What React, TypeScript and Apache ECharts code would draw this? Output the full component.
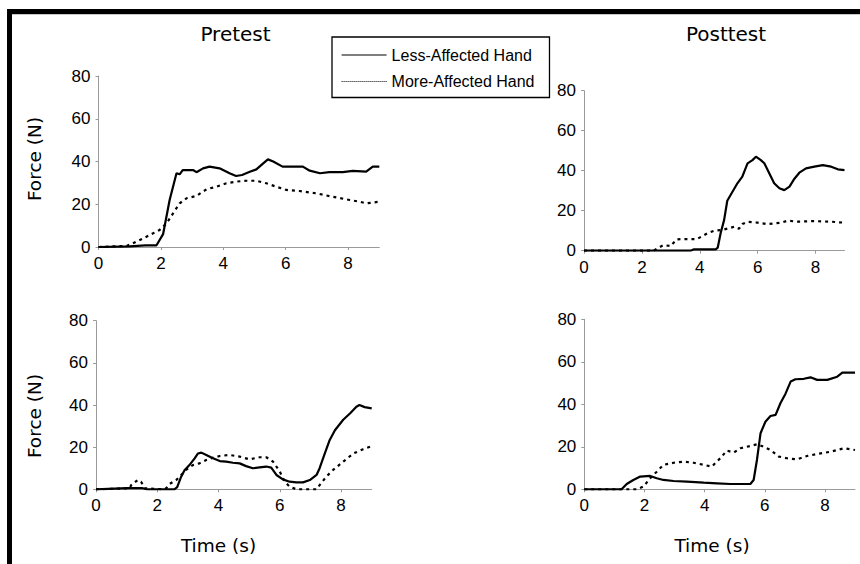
import React, { useEffect, useRef } from "react";
import * as echarts from "echarts";

// ---- Data (time in s, force in N) ----
const xTicks = [0, 2, 4, 6, 8];
const legendNames = ["Less-Affected Hand", "More-Affected Hand"];
const panelTitles = ["Pretest", "Posttest"];

const preTopLess = [
  [0, 0], [1.0, 0.3], [1.5, 0.8], [1.86, 0.8], [2.07, 6], [2.28, 22], [2.5, 34.5], [2.6, 34],
  [2.7, 36], [3.03, 36], [3.14, 35], [3.35, 36.8], [3.56, 37.6], [3.88, 36.8], [4.2, 34.5],
  [4.41, 33.2], [4.6, 33.7], [4.85, 35.2], [5.06, 36.3], [5.27, 39], [5.43, 41], [5.6, 40],
  [5.9, 37.6], [6.23, 37.6], [6.55, 37.6], [6.77, 35.7], [7.1, 34.5], [7.4, 35], [7.83, 35],
  [8.15, 35.6], [8.58, 35.3], [8.79, 37.6], [9.0, 37.6],
];
const preTopMore = [
  [0, 0], [0.9, 0.5], [1.1, 1.7], [1.43, 4], [1.75, 6.4], [1.96, 8], [2.18, 11], [2.39, 15.7],
  [2.6, 20.4], [2.82, 22.8], [3.14, 23.9], [3.46, 27], [3.78, 28.2], [4.1, 29.8], [4.42, 30.6],
  [4.74, 31], [5.06, 31], [5.38, 29.8], [5.7, 28.2], [6.02, 26.7], [6.44, 26.2], [6.98, 25.1],
  [7.51, 23.5], [8.05, 22], [8.37, 21.2], [8.58, 20.4], [9.0, 21.2],
];
const postTopLess = [
  [0, 0], [3.68, 0], [3.8, 0.7], [4.55, 0.7], [4.62, 1.5], [4.72, 8.7], [4.84, 15.3], [4.95, 25],
  [5.13, 29.5], [5.3, 33.7], [5.47, 37], [5.65, 43.7], [5.82, 45.3], [5.94, 47], [6.11, 45.3],
  [6.23, 43.7], [6.4, 38.7], [6.57, 33.7], [6.75, 31.2], [6.92, 30.3], [7.1, 32], [7.27, 36],
  [7.44, 39], [7.67, 41.2], [7.96, 42], [8.25, 42.8], [8.54, 42], [8.77, 40.7], [9.0, 40.3],
];
const postTopMore = [
  [0, 0], [2.4, 0], [2.64, 2], [2.75, 2.8], [2.99, 2.3], [3.2, 5.7], [3.45, 5.8], [3.9, 5.8],
  [4.26, 8.7], [4.5, 10], [4.72, 10.3], [4.95, 11], [5.19, 12], [5.36, 11], [5.47, 13.3],
  [5.65, 14.5], [6.0, 14], [6.34, 13.3], [6.8, 14], [7.04, 15], [7.38, 14.5], [7.96, 14.8],
  [8.54, 14.5], [9.0, 14],
];
const preBottomLess = [
  [0, 0], [1.0, 0.6], [1.5, 0.6], [1.65, 0], [2.56, 0], [2.65, 1], [2.78, 6], [2.89, 9],
  [3.05, 11.5], [3.22, 14.7], [3.33, 17], [3.44, 17.4], [3.6, 16.3], [3.82, 14.7], [4.04, 13.4],
  [4.25, 13.1], [4.47, 12.6], [4.69, 12.3], [4.9, 11], [5.12, 10], [5.34, 10.4], [5.56, 10.8],
  [5.72, 10.3], [5.89, 6.8], [6.1, 4.7], [6.32, 3.6], [6.54, 3.3], [6.76, 3.3], [6.98, 4.4],
  [7.2, 6.8], [7.3, 10], [7.47, 17], [7.63, 23.4], [7.8, 28], [8.07, 33], [8.29, 36],
  [8.5, 39.2], [8.6, 40], [8.77, 39], [9.0, 38.4],
];
const preBottomMore = [
  [0, 0], [1.1, 0.5], [1.15, 2], [1.36, 4.4], [1.47, 3.6], [1.6, 0.5], [2.2, 0], [2.29, 0.5],
  [2.4, 2.5], [2.62, 4.4], [2.78, 6.8], [2.94, 9.2], [3.16, 11.5], [3.38, 12.3], [3.6, 13.9],
  [3.82, 15], [4.04, 15.8], [4.36, 16.3], [4.69, 15.5], [5.01, 14.2], [5.34, 15.2], [5.56, 15.2],
  [5.78, 13.1], [6.0, 8.4], [6.16, 3.6], [6.32, 1.3], [6.54, 0], [7.2, 0], [7.3, 2], [7.52, 6],
  [7.74, 9.2], [8.07, 13.1], [8.4, 17], [8.72, 19], [9.0, 20.5],
];
const postBottomLess = [
  [0, 0], [1.24, 0], [1.41, 2.5], [1.63, 4.4], [1.86, 6], [2.19, 6.3], [2.41, 5.2], [2.63, 4.4],
  [2.97, 3.9], [3.41, 3.6], [3.97, 3.1], [4.41, 2.8], [4.86, 2.5], [5.52, 2.5], [5.63, 4.4],
  [5.74, 13.8], [5.86, 26.4], [6.02, 31.8], [6.19, 34.5], [6.36, 35], [6.52, 40.5], [6.69, 45],
  [6.86, 50.7], [7.02, 51.8], [7.3, 52], [7.52, 52.7], [7.74, 51.5], [8.08, 51.5], [8.41, 53],
  [8.58, 54.9], [9.0, 54.9],
];
const postBottomMore = [
  [0, 0], [1.52, 0], [1.74, 0], [1.97, 1.3], [2.19, 5.2], [2.41, 8.3], [2.63, 11.5], [2.97, 12.5],
  [3.3, 13], [3.63, 12.5], [3.97, 11.5], [4.24, 10.7], [4.52, 14.6], [4.74, 18.2], [4.97, 17.3],
  [5.19, 19.3], [5.52, 20.4], [5.74, 21.2], [5.97, 20], [6.19, 18.5], [6.47, 15.4], [6.74, 14.6],
  [7.08, 14.1], [7.41, 15.7], [7.74, 16.6], [8.19, 17.7], [8.63, 19.3], [9.0, 18.5],
];

const panels = [
  { less: preTopLess, more: preTopMore, grid: { left: 98.5, top: 76, width: 280.8, height: 171 } },
  { less: postTopLess, more: postTopMore, grid: { left: 584, top: 90.7, width: 260.5, height: 160 } },
  { less: preBottomLess, more: preBottomMore, grid: { left: 96, top: 320.7, width: 275.7, height: 168.6 } },
  { less: postBottomLess, more: postBottomMore, grid: { left: 584.3, top: 319.3, width: 270.7, height: 170 } },
];

const SANS = "'Liberation Sans', Arial, sans-serif";
const DEJA = "'DejaVu Sans', Verdana, sans-serif";
const AXIS_GRAY = "#9a9a9a";

export default function App() {
  const ref = useRef<HTMLDivElement>(null);

  useEffect(() => {
    if (!ref.current) return;
    const chart = echarts.init(ref.current, undefined, { renderer: "svg" });

    const grids = panels.map((p) => ({ ...p.grid, containLabel: false }));
    const xAxes = panels.map((_, i) => ({
      type: "value",
      gridIndex: i,
      min: 0,
      max: 9,
      interval: 2,
      axisLine: { show: true, lineStyle: { color: AXIS_GRAY, width: 1 } },
      axisTick: { show: true, length: 3, lineStyle: { color: AXIS_GRAY }, customValues: xTicks },
      axisLabel: { color: "#000", fontSize: 17, fontFamily: SANS, margin: 8, customValues: xTicks },
      splitLine: { show: false },
    }));
    const yAxes = panels.map((_, i) => ({
      type: "value",
      gridIndex: i,
      min: 0,
      max: 80,
      interval: 20,
      axisLine: { show: true, lineStyle: { color: AXIS_GRAY, width: 1 } },
      axisTick: { show: true, length: 3, lineStyle: { color: AXIS_GRAY } },
      axisLabel: { color: "#000", fontSize: 17, fontFamily: SANS, margin: 8 },
      splitLine: { show: false },
    }));

    const series: any[] = [];
    panels.forEach((p, i) => {
      series.push({
        type: "line",
        name: legendNames[0],
        xAxisIndex: i,
        yAxisIndex: i,
        data: p.less,
        symbol: "none",
        showSymbol: false,
        lineStyle: { color: "#000", width: 2.2, type: "solid" },
        itemStyle: { color: "#000" },
      });
      series.push({
        type: "line",
        name: legendNames[1],
        xAxisIndex: i,
        yAxisIndex: i,
        data: p.more,
        symbol: "none",
        showSymbol: false,
        lineStyle: { color: "#000", width: 2.2, type: [3, 4] },
        itemStyle: { color: "#000" },
      });
    });

    const titleFont = `20px ${DEJA}`;
    const nameFont = `18.5px ${DEJA}`;
    const graphic: any[] = [
      { type: "rect", shape: { x: 7, y: 9, width: 853, height: 5 }, style: { fill: "#000" } },
      { type: "rect", shape: { x: 7, y: 14, width: 853, height: 1 }, style: { fill: "#c8c8c8" } },
      { type: "rect", shape: { x: 7, y: 9, width: 5, height: 555 }, style: { fill: "#000" } },
      {
        type: "text", x: 235.5, y: 34,
        style: { text: panelTitles[0], fill: "#000", font: titleFont, textAlign: "center", textVerticalAlign: "middle" },
      },
      {
        type: "text", x: 726, y: 34,
        style: { text: panelTitles[1], fill: "#000", font: titleFont, textAlign: "center", textVerticalAlign: "middle" },
      },
      {
        type: "text", x: 34, y: 159, rotation: Math.PI / 2,
        style: { text: "Force (N)", fill: "#000", font: nameFont, textAlign: "center", textVerticalAlign: "middle" },
      },
      {
        type: "text", x: 34, y: 416, rotation: Math.PI / 2,
        style: { text: "Force (N)", fill: "#000", font: nameFont, textAlign: "center", textVerticalAlign: "middle" },
      },
      {
        type: "text", x: 218.5, y: 545,
        style: { text: "Time (s)", fill: "#000", font: nameFont, textAlign: "center", textVerticalAlign: "middle" },
      },
      {
        type: "text", x: 712, y: 545,
        style: { text: "Time (s)", fill: "#000", font: nameFont, textAlign: "center", textVerticalAlign: "middle" },
      },
    ];

    const hiddenSymbol = { color: "rgba(0,0,0,0)", borderWidth: 0, opacity: 0 };

    chart.setOption({
      animation: false,
      backgroundColor: "#fff",
      grid: grids,
      xAxis: xAxes,
      yAxis: yAxes,
      series,
      graphic,
      legend: {
        orient: "vertical",
        left: 332,
        top: 37,
        itemWidth: 45,
        itemHeight: 16,
        itemGap: 10.5,
        padding: [10, 15, 8, 9],
        borderColor: "#000",
        borderWidth: 1.3,
        backgroundColor: "#fff",
        selectedMode: false,
        textStyle: { color: "#000", fontSize: 16, fontFamily: SANS },
        data: [
          { name: legendNames[0], itemStyle: hiddenSymbol, lineStyle: { color: "#000", width: 1.2, type: "solid" } },
          { name: legendNames[1], itemStyle: hiddenSymbol, lineStyle: { color: "#000", width: 1.2, type: [1, 1] } },
        ],
      },
    });

    return () => chart.dispose();
  }, []);

  return (
    <div
      ref={ref}
      style={{ position: "absolute", left: 0, top: 0, width: 860, height: 564, background: "#fff" }}
    />
  );
}
